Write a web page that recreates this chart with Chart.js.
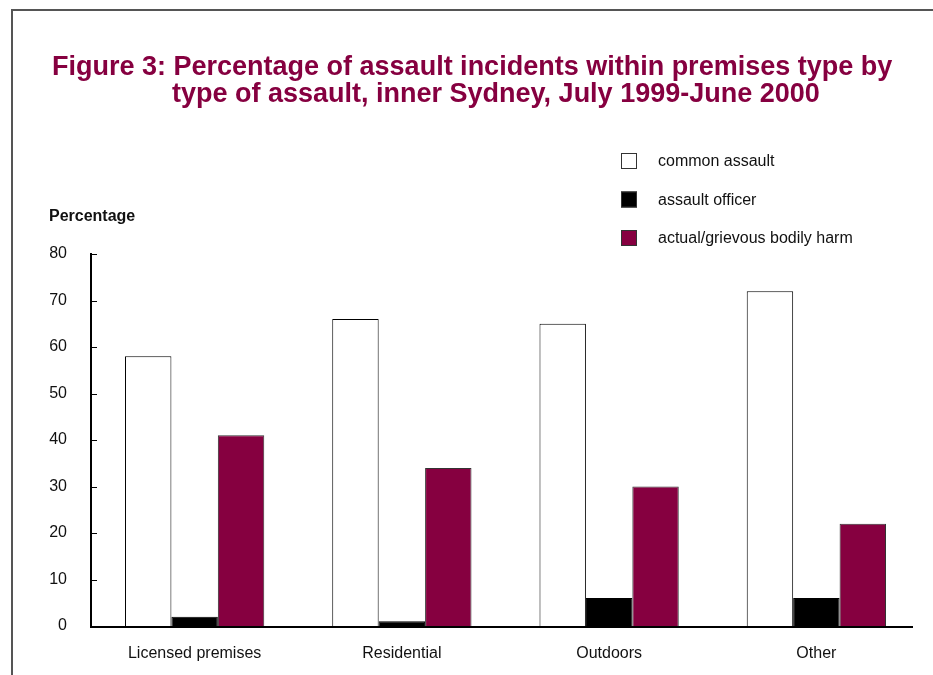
<!DOCTYPE html>
<html>
<head>
<meta charset="utf-8">
<script src="https://cdn.jsdelivr.net/npm/chart.js@4.4.0/dist/chart.umd.min.js"></script>
<style>
  html, body { margin: 0; padding: 0; background: #fff; }
  #wrap { position: relative; width: 933px; height: 675px; }
  #frame { position: absolute; left: 11px; top: 9px; width: 940px; height: 700px;
           border-left: 2px solid #555; border-top: 2px solid #555; }
</style>
</head>
<body>
<div id="wrap">
  <div id="frame"></div>
  <canvas id="chart" width="933" height="675"></canvas>
</div>
<script>
var categories = ['Licensed premises', 'Residential', 'Outdoors', 'Other'];
var commonAssault = [58, 66, 65, 72];
var assaultOfficer = [2, 1, 6, 6];
var bodilyHarm = [41, 34, 30, 22];
var yTicks = [0, 10, 20, 30, 40, 50, 60, 70, 80];

var sans = '"Liberation Sans", Arial, sans-serif';
var maroon = '#860040';

// title, axis label, legend, x axis line and inner ticks
var decorations = {
    id: 'decorations',
    afterDraw: function (chart) {
        var ctx = chart.ctx;
        var y = chart.scales.y;
        var area = chart.chartArea;
        ctx.save();
        // title
        ctx.fillStyle = maroon;
        ctx.font = 'bold 27px ' + sans;
        ctx.textBaseline = 'alphabetic';
        ctx.textAlign = 'left';
        ctx.fillText('Figure 3: Percentage of assault incidents within premises type by', 52, 75);
        ctx.fillText('type of assault, inner Sydney, July 1999-June 2000', 172, 102);
        // y axis title
        ctx.textBaseline = 'middle';
        ctx.fillStyle = '#111';
        ctx.font = 'bold 16px ' + sans;
        ctx.fillText('Percentage', 49, 217);
        // x axis line (stops a little short of the last category)
        ctx.strokeStyle = '#000';
        ctx.lineWidth = 2;
        var base = y.getPixelForValue(0) + 1;
        ctx.beginPath();
        ctx.moveTo(y.right - 1, base);
        ctx.lineTo(area.right - 7, base);
        ctx.stroke();
        // ticks pointing inward
        ctx.lineWidth = 1;
        yTicks.forEach(function (t) {
            var py = Math.round(y.getPixelForValue(t)) + 0.5;
            ctx.beginPath();
            ctx.moveTo(y.right, py);
            ctx.lineTo(y.right + 6, py);
            ctx.stroke();
        });
        // legend
        ctx.font = '16px ' + sans;
        chart.data.datasets.forEach(function (ds, i) {
            var cy = 161 + i * 38.5;
            ctx.fillStyle = ds.backgroundColor;
            ctx.fillRect(621, cy - 8, 16, 16);
            ctx.strokeStyle = '#333';
            ctx.strokeRect(621.5, cy - 7.5, 15, 15);
            ctx.fillStyle = '#111';
            ctx.fillText(ds.label, 658, cy + 1);
        });
        ctx.restore();
    }
};

new Chart(document.getElementById('chart'), {
    type: 'bar',
    data: {
        labels: categories,
        datasets: [
            { label: 'common assault', data: commonAssault, backgroundColor: '#ffffff', borderColor: '#000', borderWidth: 1 },
            { label: 'assault officer', data: assaultOfficer, backgroundColor: '#000000', borderColor: '#000', borderWidth: 1 },
            { label: 'actual/grievous bodily harm', data: bodilyHarm, backgroundColor: maroon, borderColor: '#333', borderWidth: 1 }
        ]
    },
    plugins: [decorations],
    options: {
        responsive: false,
        animation: false,
        layout: { padding: { left: 0, right: 13, top: 254, bottom: 0 } },
        datasets: { bar: { categoryPercentage: 0.672, barPercentage: 1 } },
        plugins: {
            legend: { display: false },
            title: { display: false },
            tooltip: { enabled: false }
        },
        scales: {
            x: {
                grid: { display: false },
                border: { display: false },
                ticks: { color: '#111', font: { family: sans, size: 16 }, padding: 10, maxRotation: 0 },
                afterFit: function (s) { s.height = 49; }
            },
            y: {
                min: 0,
                max: 80,
                afterBuildTicks: function (s) { s.ticks = yTicks.map(function (v) { return { value: v }; }); },
                grid: { display: false, drawTicks: false },
                border: { color: '#000', width: 2 },
                ticks: { color: '#111', font: { family: sans, size: 16 }, padding: 24 },
                afterFit: function (s) { s.width = 91; }
            }
        }
    }
});
</script>
</body>
</html>
